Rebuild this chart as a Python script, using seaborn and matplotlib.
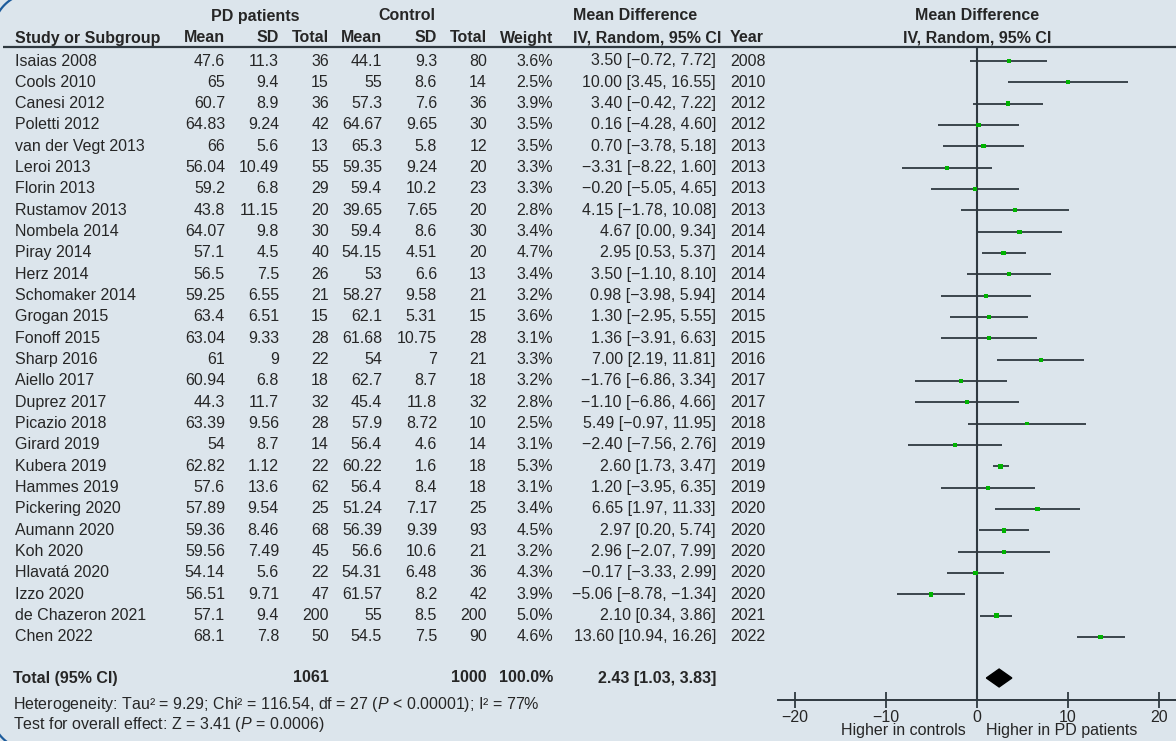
import matplotlib
matplotlib.use("Agg")
import matplotlib.pyplot as plt
import numpy as np
import pandas as pd
import seaborn as sns

studies = ["Isaias 2008", "Cools 2010", "Canesi 2012", "Poletti 2012", "van der Vegt 2013",
           "Leroi 2013", "Florin 2013", "Rustamov 2013", "Nombela 2014", "Piray 2014",
           "Herz 2014", "Schomaker 2014", "Grogan 2015", "Fonoff 2015", "Sharp 2016",
           "Aiello 2017", "Duprez 2017", "Picazio 2018", "Girard 2019", "Kubera 2019",
           "Hammes 2019", "Pickering 2020", "Aumann 2020", "Koh 2020", "Hlavatá 2020",
           "Izzo 2020", "de Chazeron 2021", "Chen 2022"]
pd_mean = [47.6, 65, 60.7, 64.83, 66, 56.04, 59.2, 43.8, 64.07, 57.1, 56.5, 59.25, 63.4, 63.04,
           61, 60.94, 44.3, 63.39, 54, 62.82, 57.6, 57.89, 59.36, 59.56, 54.14, 56.51, 57.1, 68.1]
pd_sd = [11.3, 9.4, 8.9, 9.24, 5.6, 10.49, 6.8, 11.15, 9.8, 4.5, 7.5, 6.55, 6.51, 9.33,
         9, 6.8, 11.7, 9.56, 8.7, 1.12, 13.6, 9.54, 8.46, 7.49, 5.6, 9.71, 9.4, 7.8]
pd_n = [36, 15, 36, 42, 13, 55, 29, 20, 30, 40, 26, 21, 15, 28,
        22, 18, 32, 28, 14, 22, 62, 25, 68, 45, 22, 47, 200, 50]
ctrl_mean = [44.1, 55, 57.3, 64.67, 65.3, 59.35, 59.4, 39.65, 59.4, 54.15, 53, 58.27, 62.1, 61.68,
             54, 62.7, 45.4, 57.9, 56.4, 60.22, 56.4, 51.24, 56.39, 56.6, 54.31, 61.57, 55, 54.5]
ctrl_sd = [9.3, 8.6, 7.6, 9.65, 5.8, 9.24, 10.2, 7.65, 8.6, 4.51, 6.6, 9.58, 5.31, 10.75,
           7, 8.7, 11.8, 8.72, 4.6, 1.6, 8.4, 7.17, 9.39, 10.6, 6.48, 8.2, 8.5, 7.5]
ctrl_n = [80, 14, 36, 30, 12, 20, 23, 20, 30, 20, 13, 21, 15, 28,
          21, 18, 32, 10, 14, 18, 18, 25, 93, 21, 36, 42, 200, 90]
weight = [3.6, 2.5, 3.9, 3.5, 3.5, 3.3, 3.3, 2.8, 3.4, 4.7, 3.4, 3.2, 3.6, 3.1,
          3.3, 3.2, 2.8, 2.5, 3.1, 5.3, 3.1, 3.4, 4.5, 3.2, 4.3, 3.9, 5.0, 4.6]
md = [3.50, 10.00, 3.40, 0.16, 0.70, -3.31, -0.20, 4.15, 4.67, 2.95, 3.50, 0.98, 1.30, 1.36,
      7.00, -1.76, -1.10, 5.49, -2.40, 2.60, 1.20, 6.65, 2.97, 2.96, -0.17, -5.06, 2.10, 13.60]
ci_low = [-0.72, 3.45, -0.42, -4.28, -3.78, -8.22, -5.05, -1.78, 0.00, 0.53, -1.10, -3.98, -2.95, -3.91,
          2.19, -6.86, -6.86, -0.97, -7.56, 1.73, -3.95, 1.97, 0.20, -2.07, -3.33, -8.78, 0.34, 10.94]
ci_high = [7.72, 16.55, 7.22, 4.60, 5.18, 1.60, 4.65, 10.08, 9.34, 5.37, 8.10, 5.94, 5.55, 6.63,
           11.81, 3.34, 4.66, 11.95, 2.76, 3.47, 6.35, 11.33, 5.74, 7.99, 2.99, -1.34, 3.86, 16.26]
years = [2008, 2010, 2012, 2012, 2013, 2013, 2013, 2013, 2014, 2014, 2014, 2014, 2015, 2015,
         2016, 2017, 2017, 2018, 2019, 2019, 2019, 2020, 2020, 2020, 2020, 2020, 2021, 2022]

total_pd_n = 1061
total_ctrl_n = 1000
total_weight = "100.0%"
pooled_md, pooled_low, pooled_high = 2.43, 1.03, 3.83
x_ticks = [-20, -10, 0, 10, 20]

BG = "#dce5ec"
INK = "#262626"
LINE = "#2f3940"
GREEN = "#00b300"
FS = 11.5
W, H = 1176, 741


def row_of(px):
    # pixel row -> study row index (row 0 sits at 61 px, rows 21.33 px apart)
    return (px - 61) / 21.333


def num(v):
    return f"{v:g}".replace("-", "\u2212")


def ci_text(m, lo, hi):
    return f"{m:.2f} [{lo:.2f}, {hi:.2f}]".replace("-", "\u2212")


sns.set_theme(style="white")
plt.rcParams["font.family"] = ["Liberation Sans", "DejaVu Sans"]
plt.rcParams["mathtext.fontset"] = "custom"
plt.rcParams["mathtext.rm"] = "Liberation Sans"
plt.rcParams["mathtext.it"] = "Liberation Sans:italic"
plt.rcParams["mathtext.bf"] = "Liberation Sans:bold"

fig = plt.figure(figsize=(W / 100, H / 100), dpi=100)
fig.patch.set_facecolor(BG)

# table axes: x in pixels, y in row units
ax_t = fig.add_axes([0, 0, 1, 1])
ax_t.set_xlim(0, W)
ax_t.set_ylim(row_of(H), row_of(0))
ax_t.axis("off")

bold = dict(fontsize=FS, color=INK, fontweight="bold", va="center")
norm = dict(fontsize=FS, color=INK, va="center")

h1, h2 = row_of(16), row_of(38)
ax_t.text(255, h1, "PD patients", ha="center", **bold)
ax_t.text(407, h1, "Control", ha="center", **bold)
ax_t.text(635, h1, "Mean Difference", ha="center", **bold)
ax_t.text(977, h1, "Mean Difference", ha="center", **bold)
ax_t.text(15, h2, "Study or Subgroup", ha="left", **bold)
for x, lab in [(225, "Mean"), (279, "SD"), (329, "Total"), (382, "Mean"),
               (437, "SD"), (487, "Total"), (553, "Weight"), (721, "IV, Random, 95% CI")]:
    ax_t.text(x, h2, lab, ha="right", **bold)
ax_t.text(730, h2, "Year", ha="left", **bold)
ax_t.text(977, h2, "IV, Random, 95% CI", ha="center", **bold)
ax_t.hlines(row_of(47), 3, W, color=LINE, lw=1.6)

for i, name in enumerate(studies):
    ax_t.text(15, i, name, ha="left", **norm)
    ax_t.text(225, i, num(pd_mean[i]), ha="right", **norm)
    ax_t.text(279, i, num(pd_sd[i]), ha="right", **norm)
    ax_t.text(329, i, str(pd_n[i]), ha="right", **norm)
    ax_t.text(382, i, num(ctrl_mean[i]), ha="right", **norm)
    ax_t.text(437, i, num(ctrl_sd[i]), ha="right", **norm)
    ax_t.text(487, i, str(ctrl_n[i]), ha="right", **norm)
    ax_t.text(553, i, f"{weight[i]:.1f}%", ha="right", **norm)
    ax_t.text(716, i, ci_text(md[i], ci_low[i], ci_high[i]), ha="right", **norm)
    ax_t.text(730, i, str(years[i]), ha="left", **norm)

r_tot = row_of(678)
ax_t.text(13, r_tot, "Total (95% CI)", ha="left", **bold)
ax_t.text(329, r_tot, str(total_pd_n), ha="right", **bold)
ax_t.text(487, r_tot, str(total_ctrl_n), ha="right", **bold)
ax_t.text(553, r_tot, total_weight, ha="right", **bold)
ax_t.text(716, r_tot, ci_text(pooled_md, pooled_low, pooled_high), ha="right", **bold)
ax_t.text(13, row_of(704),
          "Heterogeneity: Tau\u00b2 = 9.29; Chi\u00b2 = 116.54, df = 27 ($\\mathit{P}$ < 0.00001); I\u00b2 = 77%",
          ha="left", **norm)
ax_t.text(13, row_of(724), "Test for overall effect: Z = 3.41 ($\\mathit{P}$ = 0.0006)", ha="left", **norm)
ax_t.text(966, row_of(731), "Higher in controls", ha="right", **norm)
ax_t.text(986, row_of(731), "Higher in PD patients", ha="left", **norm)

# forest axes
ax_f = fig.add_axes([778 / W, (H - 700) / H, (W - 778) / W, (700 - 47) / H])
ax_f.set_facecolor("none")
ax_f.set_xlim(-21.87, 21.87)
for side in ["top", "left", "right"]:
    ax_f.spines[side].set_visible(False)
ax_f.spines["bottom"].set_color(LINE)
ax_f.spines["bottom"].set_linewidth(1.4)
ax_f.axvline(0, color=LINE, lw=1.5, zorder=1)

df = pd.DataFrame({"md": md, "row": range(len(studies)), "weight": weight})
ax_f.hlines(df["row"], ci_low, ci_high, color=LINE, lw=1.3, zorder=2)
sns.scatterplot(data=df, x="md", y="row", size="weight", sizes=(7, 14), marker="s",
                color=GREEN, linewidth=0, legend=False, ax=ax_f, zorder=3)
ax_f.set_xlabel("")
ax_f.set_ylabel("")
ax_f.set_ylim(row_of(700), row_of(47))
ax_f.set_xticks(x_ticks)
ax_f.set_yticks([])
ax_f.tick_params(axis="x", direction="inout", length=12, width=1.3, color=LINE,
                 labelsize=FS, labelcolor=INK, pad=1, bottom=True)

dh = 0.42
ax_f.fill([pooled_low, pooled_md, pooled_high, pooled_md],
          [r_tot, r_tot - dh, r_tot, r_tot + dh], color="black", zorder=3)

# bits of a rounded blue frame at the left corners (overlay axes in pixel units)
ax_o = fig.add_axes([0, 0, 1, 1], zorder=5)
ax_o.set_xlim(0, W)
ax_o.set_ylim(H, 0)
ax_o.axis("off")
theta = np.linspace(np.pi / 2, np.pi, 60)
ax_o.plot(33 + 40 * np.cos(theta), 33 - 40 * np.sin(theta), color="#1d5c9c", lw=1.6)
ax_o.plot(31 + 40 * np.cos(theta), H - 31 + 40 * np.sin(theta), color="#1d5c9c", lw=1.6)

fig.savefig("out.png", dpi=100, facecolor=BG)
